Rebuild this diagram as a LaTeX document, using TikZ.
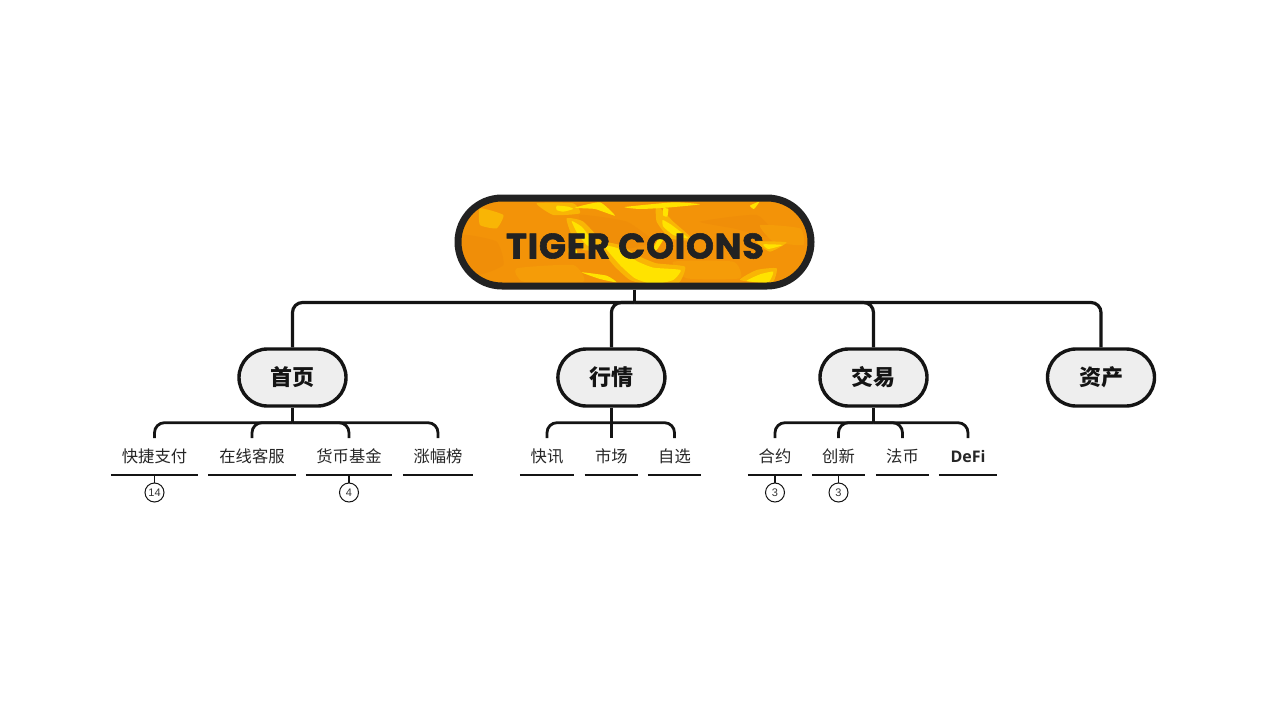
\documentclass[tikz,border=0pt]{standalone}
\usepackage{fontspec}
\usetikzlibrary{shapes.misc,calc}
\setmainfont{Noto Sans CJK SC}
\newfontfamily\titlefont[FakeBold=1.6,LetterSpace=2.2]{Poppins}
\newfontfamily\latinfont{Open Sans}
\newfontfamily\badgefont{Liberation Sans}
\definecolor{ink}{HTML}{141414}
\definecolor{rootink}{HTML}{222222}
\definecolor{orangebase}{HTML}{F39308}
\definecolor{orangedeep}{HTML}{F08E08}
\definecolor{orangelight}{HTML}{F59C08}
\definecolor{foilmid}{HTML}{F9B505}
\definecolor{foil}{HTML}{FFE300}
\definecolor{branchfill}{HTML}{EEEEEE}
\tikzset{
  rootnode/.style={draw=rootink,line width=7pt,rounded rectangle,minimum width=353pt,minimum height=88pt,inner sep=0pt,text=rootink},
  branchnode/.style={draw=ink,fill=branchfill,line width=3.4pt,rounded rectangle,minimum width=107pt,minimum height=57pt,inner sep=0pt,font=\fontsize{22}{24}\selectfont\bfseries,text=ink},
  leafnode/.style={minimum height=37pt,inner sep=0pt,anchor=north,font=\fontsize{16.3}{18}\selectfont,text=black!85},
  uline/.style={draw=ink,line width=2pt},
  conn/.style={draw=ink,line width=2.8pt,rounded corners=10pt},
  badge/.style={circle,draw=ink,line width=1pt,fill=white,minimum size=19pt,inner sep=0pt,font=\fontsize{11}{12}\selectfont\badgefont,text=black!80},
  badgelink/.style={draw=ink,line width=1.6pt}
}
\newcommand{\blobat}[2]{\fill[#1] plot[smooth cycle,tension=.3] coordinates {#2};}
\begin{document}
\begin{tikzpicture}[x=1pt,y=-1pt]
\useasboundingbox (0,0) rectangle (1280,725);
% textured fill of the root
\begin{scope}
  \clip[rounded corners=44pt] (458,198) rectangle (811,286);
  \fill[orangebase] (458,198) rectangle (811,286);
  \begin{scope}[shift={(440,185)},x=0.3333pt,y=-0.3333pt]
    \blobat{foilmid}{(120,70)(190,90)(170,130)(120,120)}
    \blobat{orangedeep}{(70,150)(170,170)(190,240)(110,270)(70,210)}
    \blobat{orangedeep}{(420,90)(560,110)(640,170)(560,190)(450,150)}
    \blobat{orangedeep}{(780,110)(950,90)(1010,160)(880,130)}
    \blobat{orangelight}{(230,250)(400,240)(430,290)(250,290)}
    \blobat{orangelight}{(960,120)(1080,130)(1090,180)(1000,170)}
    \blobat{orangelight}{(700,230)(880,230)(900,280)(740,280)}
    \blobat{foilmid}{(470,170)(540,180)(600,215)(650,235)(735,245)(715,295)(630,300)(570,285)(520,240)}
    \blobat{foilmid}{(290,55)(400,55)(420,85)(340,90)}
    \blobat{foilmid}{(380,100)(430,110)(500,190)(430,195)(395,150)}
    \blobat{foilmid}{(650,60)(700,110)(760,165)(690,160)(650,110)}
    \blobat{foilmid}{(900,285)(950,255)(1010,250)(995,295)}
    \blobat{foilmid}{(950,170)(1040,172)(990,200)}
    \blobat{foil}{(492,182)(540,192)(590,228)(640,248)(722,255)(700,285)(640,298)(585,280)(540,240)}
    \blobat{foil}{(395,108)(425,125)(445,150)(480,195)(440,180)(412,145)}
    \blobat{foil}{(350,62)(385,65)(400,72)(370,80)(350,75)}
    \blobat{foil}{(405,68)(480,52)(525,92)(465,72)}
    \blobat{foil}{(555,66)(700,52)(780,58)(680,68)(600,72)}
    \blobat{foil}{(668,105)(695,120)(745,160)(700,150)(670,125)}
    \blobat{foil}{(670,70)(685,72)(682,95)(670,92)}
    \blobat{foil}{(640,190)(662,150)(672,160)(650,195)}
    \blobat{foil}{(970,178)(1028,180)(985,192)}
    \blobat{foil}{(920,288)(960,268)(1000,260)(985,292)}
    \blobat{foil}{(425,262)(500,272)(530,292)(480,282)}
    \blobat{foil}{(930,62)(958,50)(942,72)}
    \blobat{foil}{(385,190)(410,195)(410,215)(390,215)}
  \end{scope}
\end{scope}
% nodes
\node[rootnode] (root) at (634.5,242) {};
\node[text=rootink,inner sep=0pt] (title) at (635,246) {\fontsize{35.5}{40}\selectfont\titlefont\bfseries TIGER COIONS};
\node[branchnode] (b1) at (292.5,377.5) {首页};
\node[branchnode] (b2) at (611.4,377.5) {行情};
\node[branchnode] (b3) at (873.5,377.5) {交易};
\node[branchnode] (b4) at (1101,377.5) {资产};
\node[leafnode,minimum width=87pt] (a1) at (154.5,438) {快捷支付};
\node[leafnode,minimum width=87pt] (a2) at (252,438) {在线客服};
\node[leafnode,minimum width=86pt] (a3) at (349,438) {货币基金};
\node[leafnode,minimum width=70pt] (a4) at (438,438) {涨幅榜};
\node[leafnode,minimum width=54pt] (c1) at (547,438) {快讯};
\node[leafnode,minimum width=53pt] (c2) at (611.4,438) {市场};
\node[leafnode,minimum width=53pt] (c3) at (674.5,438) {自选};
\node[leafnode,minimum width=54pt] (d1) at (775,438) {合约};
\node[leafnode,minimum width=53pt] (d2) at (838.5,438) {创新};
\node[leafnode,minimum width=53pt] (d3) at (902.5,438) {法币};
\node[leafnode,minimum width=58pt] (d4) at (968,438) {\latinfont\fontsize{16}{18}\selectfont\bfseries DeFi};
\node[badge] (n1) at (154.5,492.5) {14};
\node[badge] (n2) at (349,492.5) {4};
\node[badge] (n3) at (775,492.5) {3};
\node[badge] (n4) at (838.5,492.5) {3};
% junctions on the buses
\coordinate (rj) at ($(root.south)+(0,13)$);
\coordinate (j1) at ($(b1.south)+(0,15)$);
\coordinate (j2) at ($(b2.south)+(0,15)$);
\coordinate (j3) at ($(b3.south)+(0,15)$);
% connectors
\draw[conn,line width=3.2pt] (root.south) -- (rj);
\foreach \b in {b1,b2,b3,b4} \draw[conn,line width=3.2pt] (rj) -| (\b.north);
\draw[conn] (b1.south) -- (j1);
\foreach \c in {a1,a2,a3,a4} \draw[conn] (j1) -| (\c.north);
\draw[conn,line width=3pt] (b2.south) -- (c2.north);
\foreach \c in {c1,c3} \draw[conn] (j2) -| (\c.north);
\draw[conn] (b3.south) -- (j3);
\foreach \c in {d1,d2,d3,d4} \draw[conn] (j3) -| (\c.north);
% underlines
\foreach \c in {a1,a2,a3,a4,c1,c2,c3,d1,d2,d3,d4} \draw[uline] (\c.south west) -- (\c.south east);
\draw[badgelink] (a1.south) -- (n1.north);
\draw[badgelink] (a3.south) -- (n2.north);
\draw[badgelink] (d1.south) -- (n3.north);
\draw[badgelink] (d2.south) -- (n4.north);
\end{tikzpicture}
\end{document}
